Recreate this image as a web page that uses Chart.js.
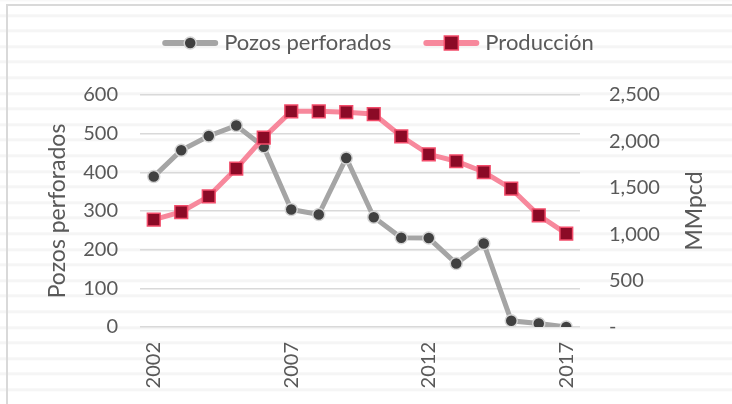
<!DOCTYPE html>
<html>
<head>
<meta charset="utf-8">
<script src="https://cdn.jsdelivr.net/npm/chart.js@4"></script>
<style>
  html, body { margin: 0; padding: 0; background: #fff; }
  #wrap { position: relative; width: 732px; height: 404px; overflow: hidden;
    background: repeating-linear-gradient(180deg, #fff 0px, #fff 12.6px, #f5f5f5 12.6px, #f5f5f5 15.6px);
    background-position: 0 1.3px; }
  #frame { position: absolute; left: 6px; top: 4px; right: -10px; bottom: -10px;
    border-left: 2px solid #d9d9d9; border-top: 2px solid #d9d9d9; }
  canvas { position: absolute; left: 0; top: 0; }
</style>
</head>
<body>
<div id="wrap">
  <div id="frame"></div>
  <canvas id="myChart" width="732" height="404"></canvas>
</div>
<script>
"use strict";

const years = ["2002", "2003", "2004", "2005", "2006", "2007", "2008", "2009",
  "2010", "2011", "2012", "2013", "2014", "2015", "2016", "2017"];
const pozos = [389, 457, 494, 521, 466, 304, 291, 437, 284, 231, 230, 164, 216, 16, 9, 0];
const produccion = [1157, 1239, 1408, 1707, 2041, 2324, 2324, 2315, 2295, 2055, 1861, 1786, 1670, 1491, 1204, 1006];
const leftTicks = [0, 100, 200, 300, 400, 500, 600];
const rightTicks = [0, 500, 1000, 1500, 2000, 2500];
const leftTitle = "Pozos perforados";
const rightTitle = "MMpcd";

const textColor = "#595959";
const fontFamily = "Lato, 'Open Sans', sans-serif";

// legend with line + marker, like the office style
const lineLegend = {
  id: "lineLegend",
  afterDraw(chart) {
    const ctx = chart.ctx;
    const sets = chart.data.datasets;
    const lineLen = 56, gapText = 6, gapItem = 32, y = 43;
    ctx.save();
    ctx.font = "22px " + fontFamily;
    const widths = sets.map((d) => ctx.measureText(d.label).width);
    let total = 0;
    widths.forEach((w, i) => {
      total += lineLen + gapText + w + (i > 0 ? gapItem : 0);
    });
    let x = 378 - total / 2;
    sets.forEach((d, i) => {
      ctx.strokeStyle = d.borderColor;
      ctx.lineWidth = 6;
      ctx.lineCap = "round";
      ctx.beginPath();
      ctx.moveTo(x + 3, y);
      ctx.lineTo(x + lineLen - 3, y);
      ctx.stroke();
      ctx.fillStyle = d.pointBackgroundColor;
      ctx.strokeStyle = d.pointBorderColor;
      ctx.lineWidth = d.pointBorderWidth;
      ctx.beginPath();
      if (d.pointStyle === "rect") {
        ctx.rect(x + lineLen / 2 - 7, y - 7, 14, 14);
      } else {
        ctx.arc(x + lineLen / 2, y, 6, 0, Math.PI * 2);
      }
      ctx.fill();
      ctx.stroke();
      ctx.fillStyle = textColor;
      ctx.textBaseline = "middle";
      ctx.textAlign = "left";
      ctx.fillText(d.label, x + lineLen + gapText, y);
      x += lineLen + gapText + widths[i] + gapItem;
    });
    ctx.restore();
  }
};

// right axis title reads bottom to top, as the left one
const rightAxisTitle = {
  id: "rightAxisTitle",
  afterDraw(chart) {
    const ctx = chart.ctx;
    const area = chart.chartArea;
    ctx.save();
    ctx.translate(695, (area.top + area.bottom) / 2);
    ctx.rotate(-Math.PI / 2);
    ctx.font = "23px " + fontFamily;
    ctx.fillStyle = textColor;
    ctx.textAlign = "center";
    ctx.textBaseline = "middle";
    ctx.fillText(rightTitle, 0, 0);
    ctx.restore();
  }
};

const ctx = document.getElementById("myChart").getContext("2d");

const config = {
  type: "line",
  data: {
    labels: years,
    datasets: [
      {
        label: "Pozos perforados",
        data: pozos,
        yAxisID: "y",
        borderColor: "#a5a5a5",
        borderWidth: 5,
        pointStyle: "circle",
        pointRadius: 6,
        pointBackgroundColor: "#404040",
        pointBorderColor: "#d4d4d4",
        pointBorderWidth: 1.5,
        tension: 0,
        order: 2
      },
      {
        label: "Producción",
        data: produccion,
        yAxisID: "y2",
        borderColor: "#f7889c",
        borderWidth: 5,
        pointStyle: "rect",
        pointRadius: 9,
        pointBackgroundColor: "#8b0a26",
        pointBorderColor: "#f24c6a",
        pointBorderWidth: 1.5,
        tension: 0,
        order: 1
      }
    ]
  },
  options: {
    responsive: false,
    animation: false,
    layout: {
      padding: { left: 24, right: 0, top: 95, bottom: 0 }
    },
    plugins: {
      legend: { display: false },
      tooltip: { enabled: false }
    },
    scales: {
      x: {
        offset: true,
        grid: { display: false, drawTicks: false },
        border: { display: false },
        ticks: {
          autoSkip: false,
          minRotation: 90,
          maxRotation: 90,
          padding: 15,
          color: textColor,
          font: { family: fontFamily, size: 20 },
          callback: function (value, index) {
            return index % 5 === 0 ? years[index] : "";
          }
        },
        afterFit: function (scale) {
          scale.height = 77;
        }
      },
      y: {
        position: "left",
        min: leftTicks[0],
        max: leftTicks[leftTicks.length - 1],
        grid: { color: "#d9d9d9", lineWidth: 1.5, drawTicks: false },
        border: { display: false },
        afterBuildTicks: function (scale) {
          scale.ticks = leftTicks.map((v) => ({ value: v }));
        },
        ticks: {
          padding: 22,
          color: textColor,
          font: { family: fontFamily, size: 20 }
        },
        title: {
          display: true,
          text: leftTitle,
          color: textColor,
          font: { family: fontFamily, size: 23 },
          padding: { top: 20, bottom: 0 }
        },
        afterFit: function (scale) {
          scale.width = 116;
        }
      },
      y2: {
        position: "right",
        min: rightTicks[0],
        max: rightTicks[rightTicks.length - 1],
        grid: { display: false, drawTicks: false },
        border: { display: false },
        afterBuildTicks: function (scale) {
          scale.ticks = rightTicks.map((v) => ({ value: v }));
        },
        ticks: {
          padding: 29,
          color: textColor,
          font: { family: fontFamily, size: 20 },
          callback: function (value) {
            return value === 0 ? "-" : value.toLocaleString("en-US");
          }
        },
        afterFit: function (scale) {
          scale.width = 152;
        }
      }
    }
  },
  plugins: [lineLegend, rightAxisTitle]
};

const chart = new Chart(ctx, config);
</script>
</body>
</html>
